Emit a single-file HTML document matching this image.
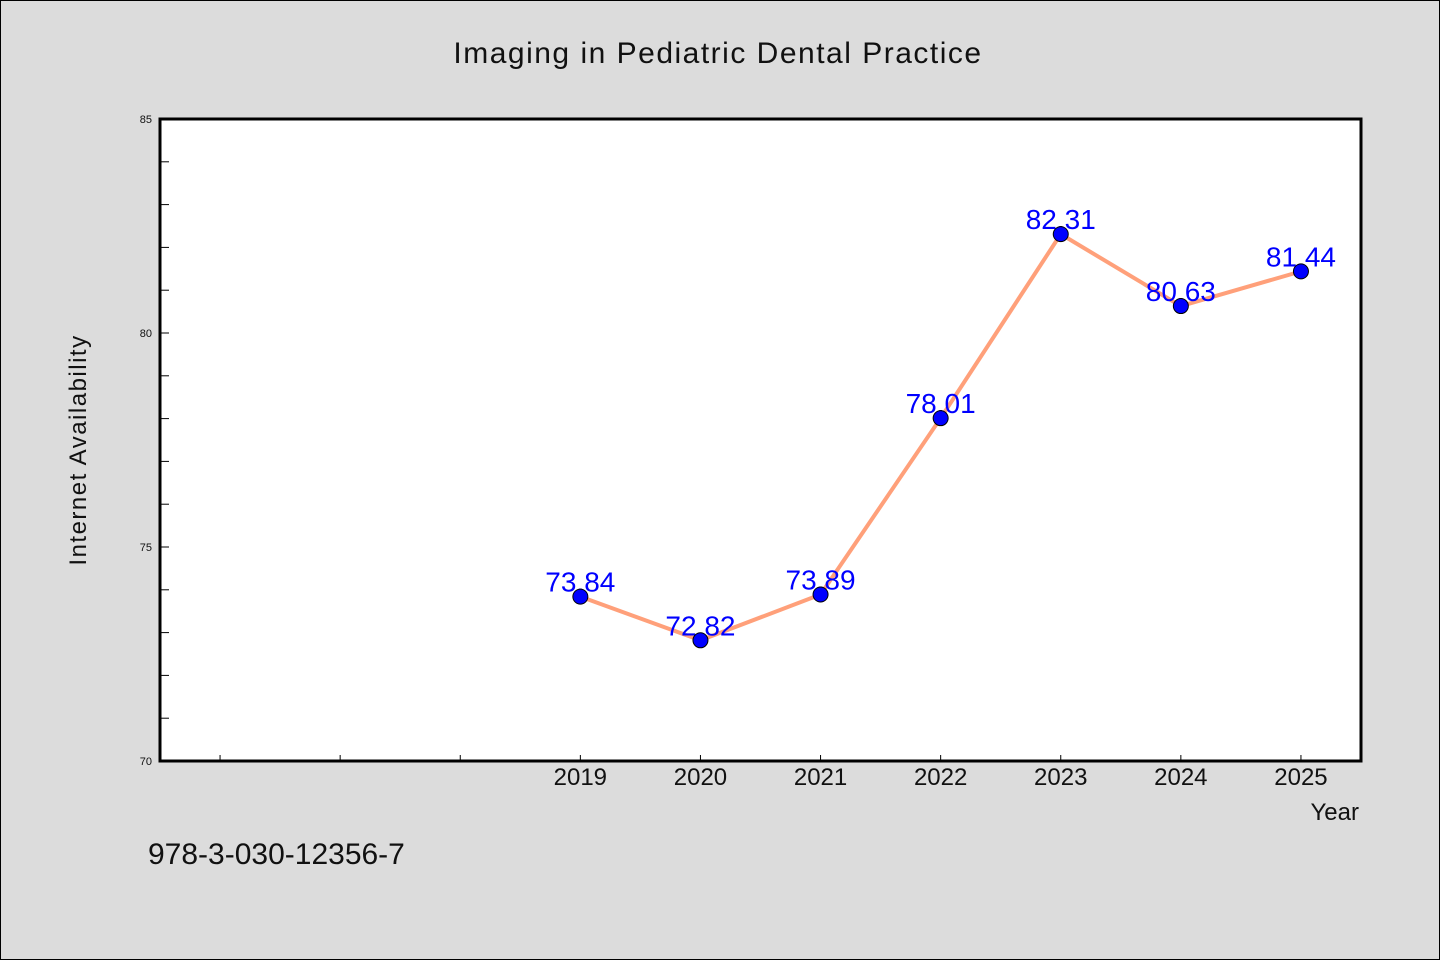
<!DOCTYPE html>
<html><head><meta charset="utf-8"><style>
html,body{margin:0;padding:0;background:#dcdcdc;}
svg{display:block;}
text{font-family:"WenQuanYi Zen Hei","Liberation Sans",sans-serif;}
</style></head><body>
<svg width="1440" height="960">
<rect x="0.5" y="0.5" width="1439" height="959" fill="#dcdcdc" stroke="#000"/>
<text x="718" y="63" font-size="30" text-anchor="middle" fill="#111" letter-spacing="1.5">Imaging in Pediatric Dental Practice</text>
<rect x="160" y="119" width="1201" height="642" fill="#fff"/>
<g id="ticks"></g>
<polyline id="line" fill="none" stroke="#ffa07a" stroke-width="4" stroke-linejoin="round"/>
<g id="pts"></g>
<rect x="160" y="119" width="1201" height="642" fill="none" stroke="#000" stroke-width="3"/>
<text x="86" y="450" font-size="24" fill="#111" text-anchor="middle" letter-spacing="1.5" transform="rotate(-90 86 450)">Internet Availability</text>
<text x="1359" y="820" font-size="24" fill="#111" text-anchor="end">Year</text>
<text x="148" y="864" font-size="30" fill="#111">978-3-030-12356-7</text>
</svg>
<script>
const years=[2019,2020,2021,2022,2023,2024,2025];
const values=[73.84,72.82,73.89,78.01,82.31,80.63,81.44];
const labels=["73.84","72.82","73.89","78.01","82.31","80.63","81.44"];
const yTickLabels=[70,75,80,85];
const ns="http://www.w3.org/2000/svg";
const X=v=>160+(v-2015.5)*120.1;
const Y=v=>761-(v-70)*42.8;
function mk(t,a,p){const e=document.createElementNS(ns,t);for(const k in a)e.setAttribute(k,a[k]);p.appendChild(e);return e;}
const tg=document.getElementById('ticks');
for(let v=70;v<=85;v++){const l=mk('line',{x1:160,x2:169,y1:Y(v),y2:Y(v),stroke:'#000','stroke-width':1},tg);

}
yTickLabels.forEach(v=>{const t=mk('text',{x:152,y:Y(v)+4,'font-size':11,'text-anchor':'end',fill:'#111'},tg);t.textContent=v;

});
for(let yr=2016;yr<=2025;yr++){const l=mk('line',{x1:X(yr),x2:X(yr),y1:761,y2:755,stroke:'#000','stroke-width':1},tg);

}
years.forEach(yr=>{const t=mk('text',{x:X(yr),y:785,'font-size':24,'text-anchor':'middle',fill:'#111'},tg);t.textContent=yr;

});
document.getElementById('line').setAttribute('points',years.map((y,i)=>X(y)+','+Y(values[i])).join(' '));
const pg=document.getElementById('pts');
years.forEach((yr,i)=>{
const t=mk('text',{x:X(yr),y:Y(values[i])-5,'font-size':28,'text-anchor':'middle',fill:'#0000ff'},pg);t.textContent=labels[i];


const c=mk('circle',{cx:X(yr),cy:Y(values[i]),r:7.5,fill:'#0000ff',stroke:'#000','stroke-width':1},pg);


});
</script>
</body></html>
